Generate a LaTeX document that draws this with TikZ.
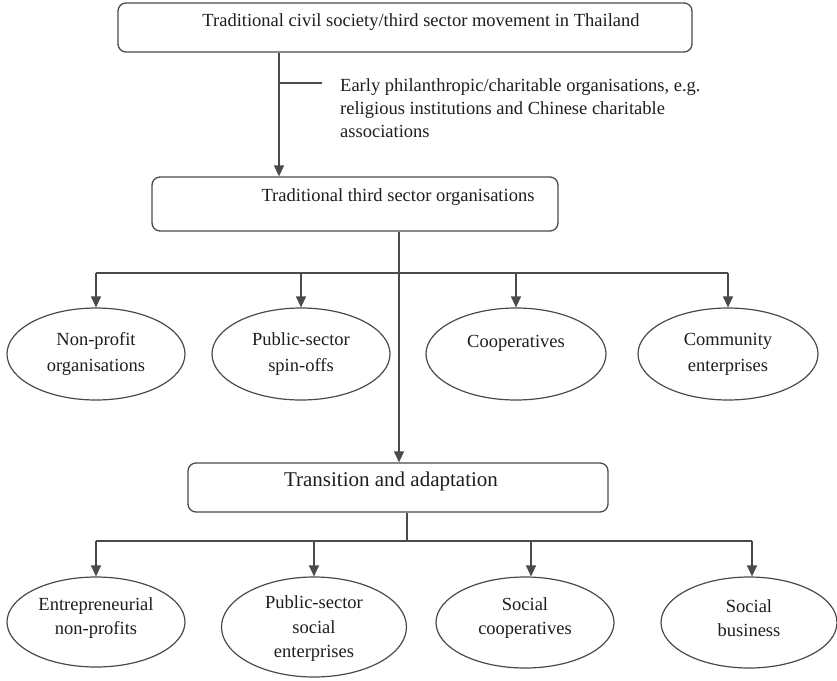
\documentclass[tikz,border=0pt]{standalone}
\usepackage{fontspec}
\setmainfont{Liberation Serif}
\usetikzlibrary{shapes.geometric,arrows.meta,calc}
\definecolor{ln}{HTML}{4a4a4a}
\definecolor{tx}{HTML}{1e1e1e}
\begin{document}
\begin{tikzpicture}[x=1pt,y=-1pt,
  box/.style={draw=ln,line width=1.3pt,rounded corners=8pt,inner sep=0pt},
  ell/.style={draw=ln,line width=1.2pt,ellipse,inner sep=0pt},
  lbl/.style={text=tx,font=\fontsize{18.5}{25}\selectfont,align=center,inner sep=0pt},
  con/.style={draw=ln,line width=1.3pt},
  arr/.style={con,-{Triangle[length=11pt,width=10pt]}}]
\useasboundingbox (0,0) rectangle (837,680);
\fill[white] (0,0) rectangle (837,680);

% boxes
\node[box,minimum width=574pt,minimum height=49pt] (top) at (405,27.5) {};
\node[lbl] (toptxt) at (421,22.5) {Traditional civil society/third sector movement in Thailand};
\node[box,minimum width=406pt,minimum height=54pt] (b2) at (355,204) {};
\node[lbl] (b2txt) at (398,197) {Traditional third sector organisations};
\node[box,minimum width=420pt,minimum height=49pt] (trans) at (398,487.5) {};
\node[lbl,font=\fontsize{21}{25}\selectfont] (transtxt) at (391,481) {Transition and adaptation};

% early text
\node[lbl,align=left,anchor=north west,font=\fontsize{18.5}{23}\selectfont] (early) at (340,78)
 {Early philanthropic/charitable organisations, e.g.\\religious institutions and Chinese charitable\\associations};

% row 1 ellipses
\node[ell,minimum width=178pt,minimum height=92pt] (e1) at (96,354) {};
\node[ell,minimum width=178pt,minimum height=92pt] (e2) at (301,354) {};
\node[ell,minimum width=180pt,minimum height=92pt] (e3) at (516,354) {};
\node[ell,minimum width=180pt,minimum height=92pt] (e4) at (728,354) {};
\node[lbl,font=\fontsize{18.5}{26}\selectfont] (e1t) at (96,354) {Non-profit\\organisations};
\node[lbl,font=\fontsize{18.5}{26}\selectfont] (e2t) at (301,354) {Public-sector\\spin-offs};
\node[lbl] (e3t) at (516,343) {Cooperatives};
\node[lbl,font=\fontsize{18.5}{26}\selectfont] (e4t) at (728,354) {Community\\enterprises};

% row 2 ellipses
\node[ell,minimum width=178pt,minimum height=90pt] (f1) at (96,622) {};
\node[ell,minimum width=185pt,minimum height=100pt] (f2) at (314,627) {};
\node[ell,minimum width=178pt,minimum height=91pt] (f3) at (525,622.5) {};
\node[ell,minimum width=176pt,minimum height=91pt] (f4) at (749,622.5) {};
\node[lbl,font=\fontsize{18.5}{24}\selectfont] (f1t) at (96,618) {Entrepreneurial\\non-profits};
\node[lbl,font=\fontsize{18.5}{24.5}\selectfont] (f2t) at (314,629) {Public-sector\\social\\enterprises};
\node[lbl,font=\fontsize{18.5}{24}\selectfont] (f3t) at (525,618) {Social\\cooperatives};
\node[lbl,font=\fontsize{18.5}{24}\selectfont] (f4t) at (749,618) {Social\\business};

% top connectors
\coordinate (t1) at (279,83);
\coordinate (t2) at (322,83);
\draw[arr] (top.south -| t1) -- (b2.north -| t1);
\draw[con] (t1) -- (t2);

% row 1 tree
\coordinate (h1) at (399,273);
\draw[con] (e1.north |- h1) -- (e4.north |- h1);
\foreach \n in {e1,e2,e3,e4} \draw[arr] (\n.north |- h1) -- (\n.north);
\draw[arr] (b2.south -| h1) -- (trans.north -| h1);

% row 2 tree
\coordinate (h2) at (407,541);
\coordinate (a3) at (531,541);
\coordinate (a4) at (752,541);
\draw[con] (trans.south -| h2) -- (h2);
\draw[con] (f1.north |- h2) -- (a4);
\draw[arr] (f1.north |- h2) -- (f1.north);
\draw[arr] (f2.north |- h2) -- (f2.north);
\draw[arr] (a3) -- (a3 |- f3.north);
\draw[arr] (a4) -- (a4 |- f4.north);
\end{tikzpicture}
\end{document}
